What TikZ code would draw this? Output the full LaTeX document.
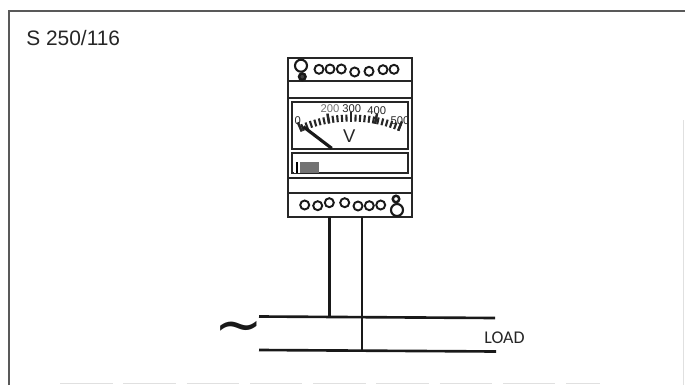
\documentclass[tikz,border=0pt]{standalone}
\usepackage{fontspec}
\setmainfont{Liberation Sans}
\newfontfamily\loadfont{Carlito}
\newfontfamily\acfont{DejaVu Sans}
\usetikzlibrary{positioning}
\tikzset{
    panel/.style={draw=black!85,rectangle,inner sep=0pt,outer sep=0pt,line width=.9pt},
    term/.style={draw=black!90,circle,inner sep=0pt,outer sep=0pt,minimum size=.18cm,line width=1.1pt},
    bigterm/.style={term,minimum size=.24cm,line width=1.2pt},
    smallterm/.style={term,minimum size=.13cm,line width=1.4pt},
    scaletext/.style={inner sep=0pt,text=black!85,font=\fontsize{6.4}{7}\selectfont},
    wire/.style={draw=black!90,line width=1.5pt},
    frame/.style={draw=black!65,line width=.8pt}
}

\begin{document}
\begin{tikzpicture}[x=.02cm,y=-.02cm]
                \useasboundingbox (0,0) rectangle (685,385);
                \coordinate (ftl) at (9,11);
                \coordinate (ftr) at (685,11);
                \coordinate (fbl) at (9,385);
                \coordinate (rt) at (683,120);
                \coordinate (rb) at (683,385);
                \coordinate (bl) at (60,383.5);
                \coordinate (br) at (600,383.5);
                \draw[frame] (fbl) -- (ftl) -- (ftr);
                \draw[draw=black!12,line width=.5pt] (rt) -- (rb);
                \draw[draw=black!12,line width=.5pt,dash pattern=on 30pt off 6pt] (bl) -- (br);
                \node[anchor=base west,inner sep=0pt,text=black!85,font=\fontsize{11.9}{14}\selectfont] (title) at (26,46) {S 250/116};
                \node[panel,minimum width=2.48cm,minimum height=.46cm] (top) at (350,69.5) {};
                \node[panel,minimum width=2.48cm,minimum height=.34cm,below=0pt of top] (topgap) {};
                \node[panel,minimum width=2.48cm,minimum height=1.6cm,line width=1.5pt,below=0pt of topgap] (meter) {};
                \node[panel,minimum width=2.48cm,minimum height=.3cm,below=0pt of meter] (botgap) {};
                \node[panel,minimum width=2.48cm,minimum height=.48cm,below=0pt of botgap] (bot) {};
                \node[panel,minimum width=2.32cm,minimum height=.94cm,line width=1.2pt] (dial) at (350,125.5) {};
                \node[panel,minimum width=2.32cm,minimum height=.4cm,line width=1.2pt,below=.08cm of dial] (window) {};
                \node[bigterm] (ta) at (301,65.7) {};
                \node[smallterm,fill=black!75] (tb) at (302.3,76.7) {};
                \node[term] (t1) at (319,69.3) {};
                \node[term] (t2) at (330,69) {};
                \node[term] (t3) at (341.3,69) {};
                \node[term] (t4) at (354.7,72) {};
                \node[term] (t5) at (369,71.3) {};
                \node[term] (t6) at (383,69.7) {};
                \node[term] (t7) at (394,69.3) {};
                \node[term] (b1) at (304.7,205) {};
                \node[term] (b2) at (317.7,205.7) {};
                \node[term] (b3) at (329.3,202.7) {};
                \node[term] (b4) at (344.7,202.7) {};
                \node[term] (b5) at (358,206) {};
                \node[term] (b6) at (369.3,205.7) {};
                \node[term] (b7) at (380.7,205) {};
                \node[bigterm] (ba) at (397,210) {};
                \node[smallterm] (bb) at (396,199) {};
                \begin{scope}[shift={(351,247.5)}]
                    \foreach \a in {-112,-110,...,-68}
                        \draw[line width=1.2pt,draw=black!85] (\a:126) -- (\a:133);
                    \foreach \a in {-113,-100,-90,-79,-68}
                        \draw[line width=1.4pt,draw=black!85] (\a:126) -- (\a:136);
                \end{scope}
                \node[scaletext] (s0) at (297.7,121) {0};
                \node[scaletext,text=black!55] (s2) at (330,109) {200};
                \node[scaletext] (s3) at (351.7,108.3) {300};
                \node[scaletext] (s4) at (376.7,110.7) {400};
                \node[scaletext] (s5) at (400,121) {500};
                \node[inner sep=0pt,text=black!85,font=\fontsize{10.5}{12}\selectfont] (volt) at (349.3,136) {V};
                \coordinate (na) at (303.3,126.7);
                \coordinate (nb) at (331.7,148.3);
                \draw[line width=1.8pt,draw=black!90] (na) -- (nb);
                \node[fill=black!55,inner sep=0pt,minimum width=.38cm,minimum height=.21cm] (badge) at (309.5,167.5) {};
                \node[fill=white,inner sep=0pt,minimum width=.12cm,minimum height=.21cm] (slot) at (296.5,167.5) {};
                \node[fill=black,inner sep=0pt,minimum width=.04cm,minimum height=.21cm] (slotbar) at (296.5,167.5) {};
                \coordinate (wa) at (329.5,217);
                \coordinate (wb) at (362,217);
                \coordinate (ja) at (329.5,317);
                \coordinate (jb) at (362,317);
                \coordinate (jc) at (362,350.5);
                \coordinate (la) at (259,316.5);
                \coordinate (lb) at (495,318);
                \coordinate (lc) at (259,350);
                \coordinate (ld) at (496,351.5);
                \draw[wire] (la) -- (lb);
                \draw[wire] (lc) -- (ld);
                \draw[wire] (wa) -- (ja);
                \draw[wire] (wb) -- (jb) -- (jc);
                \node[inner sep=0pt,scale=3.3,text=black!90,font=\acfont] (ac) at (239,332.7) {^^^^223c};
                \node[anchor=base west,inner sep=0pt,text=black!85,font=\loadfont\fontsize{10.2}{12}\selectfont] (load) at (484,343) {LOAD};
            \end{tikzpicture}
\end{document}
